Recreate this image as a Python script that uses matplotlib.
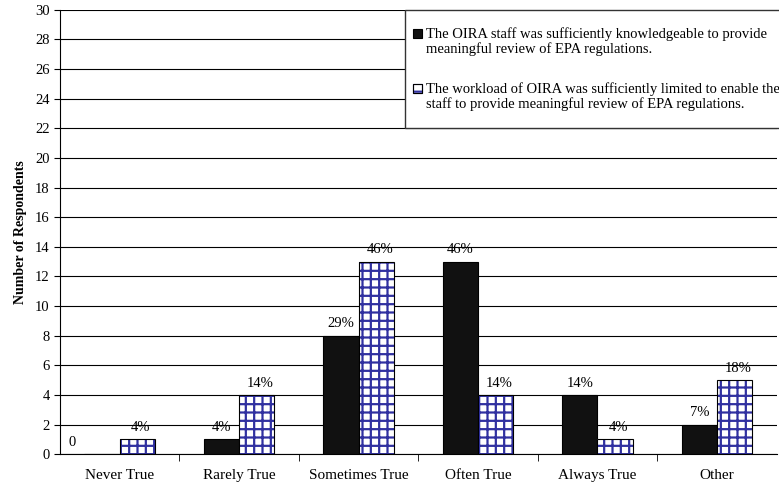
import matplotlib.pyplot as plt
import matplotlib.patches as mpatches
import numpy as np

plt.rcParams['font.family'] = ['Liberation Serif', 'DejaVu Serif']
plt.rcParams['hatch.linewidth'] = 1.6

# Survey responses (number of respondents)
categories = ["Never True", "Rarely True", "Sometimes True", "Often True", "Always True", "Other"]
knowledge_counts = [0, 1, 8, 13, 4, 2]
workload_counts = [1, 4, 13, 4, 1, 5]
knowledge_pct = ["0", "4%", "29%", "46%", "14%", "7%"]
workload_pct = ["4%", "14%", "46%", "14%", "4%", "18%"]

labels = [
    "The OIRA staff was sufficiently knowledgeable to provide\nmeaningful review of EPA regulations.",
    "The workload of OIRA was sufficiently limited to enable the\nstaff to provide meaningful review of EPA regulations.",
]

W, H = 779, 491
x = np.arange(len(categories))
width = 0.295
navy = '#3030a0'

fig = plt.figure(figsize=(W / 100, H / 100), dpi=100)
ax = fig.add_axes([0.077, 0.075, 0.92, 0.905])

ax.set_axisbelow(True)
ax.yaxis.grid(True, color='black', linewidth=0.8)

ax.bar(x - width / 2, knowledge_counts, width, color='#111111',
       edgecolor='black', linewidth=0.8)
# hatched bars: navy grid on white, with a black outline drawn on top
ax.bar(x + width / 2, workload_counts, width, color='white',
       edgecolor=navy, hatch='++', linewidth=0)
ax.bar(x + width / 2, workload_counts, width, fill=False,
       edgecolor='black', linewidth=0.8)

for xi, v, t in zip(x, knowledge_counts, knowledge_pct):
    dx = -0.25 if v == 0 else 0
    ax.text(xi - width / 2 + dx, v + 0.35, t, ha='center', va='bottom', fontsize=10.5)
for xi, v, t in zip(x, workload_counts, workload_pct):
    ax.text(xi + width / 2 + 0.03, v + 0.35, t, ha='center', va='bottom', fontsize=10.5)

ax.set_xlim(-0.5, len(categories) - 0.5)
ax.set_ylim(0, 30)
ax.set_yticks(range(0, 31, 2))
ax.set_xticks(x)
ax.set_xticklabels(categories, fontsize=11)
ax.set_xticks(np.arange(0.5, len(categories) - 0.5, 1), minor=True)
ax.tick_params(axis='x', which='major', length=0, pad=11)
ax.tick_params(axis='x', which='minor', length=5, direction='out')
ax.tick_params(axis='y', length=4, direction='out', labelsize=10.5)
ax.set_ylabel("Number of Respondents", fontsize=10, fontweight='bold', labelpad=6)

for s in ['top', 'right']:
    ax.spines[s].set_visible(False)
ax.spines['left'].set_linewidth(0.8)
ax.spines['bottom'].set_linewidth(0.8)

# legend box, drawn by hand; it runs off the right edge like the original
def fx(px):
    return px / W

def fy(py):
    return 1 - py / H

frame = mpatches.Rectangle((fx(405), fy(128)), fx(420), fy(10) - fy(128),
                           transform=fig.transFigure, facecolor='white',
                           edgecolor='#333333', linewidth=1.0, zorder=5)
fig.patches.append(frame)
handles = [dict(facecolor='#111111', edgecolor='black', hatch=None),
           dict(facecolor='white', edgecolor=navy, hatch='+')]
for i, (lab, hs) in enumerate(zip(labels, handles)):
    top = 27 + i * 55
    sq = mpatches.Rectangle((fx(413), fy(top + 11)), fx(9), fy(top + 2) - fy(top + 11),
                            transform=fig.transFigure, linewidth=0.8, zorder=6, **hs)
    fig.patches.append(sq)
    if i == 1:
        fig.patches.append(mpatches.Rectangle((fx(413), fy(top + 11)), fx(9),
                                              fy(top + 2) - fy(top + 11),
                                              transform=fig.transFigure, fill=False,
                                              edgecolor='black', linewidth=0.8, zorder=7))
    fig.text(fx(426), fy(top), lab, ha='left', va='top', fontsize=10.5,
             linespacing=1.15, zorder=7)

fig.savefig("out.png", dpi=100)
